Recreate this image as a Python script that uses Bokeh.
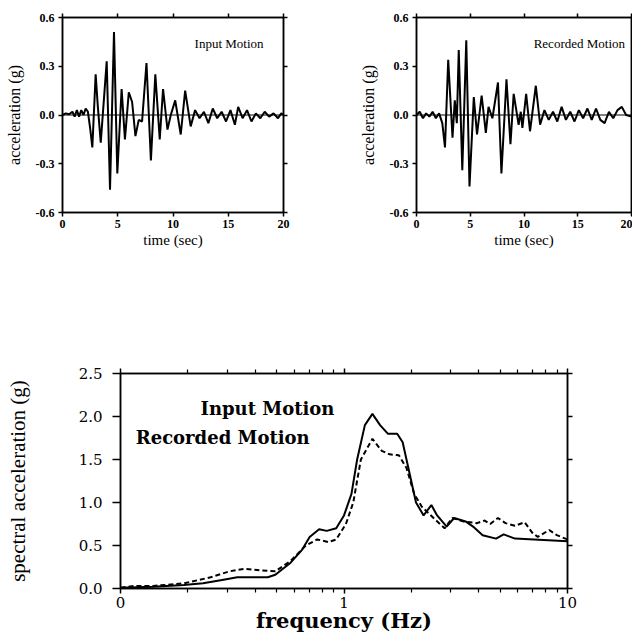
from bokeh.plotting import figure
from bokeh.layouts import column, row
from bokeh.models import (LinearAxis, LogAxis, Span, Label, FixedTicker, Range1d,
                          PrintfTickFormatter, CustomJSTickFormatter)
from bokeh.embed import file_html
from bokeh.resources import INLINE

# ---------------- data ----------------
input_t = [0, 0.3, 0.6, 0.9, 1.1, 1.3, 1.5, 1.7, 1.9, 2.1,
           2.3, 2.5, 2.7, 3.0, 3.2, 3.46, 4.0, 4.3, 4.66, 4.96,
           5.35, 5.65, 6.0, 6.3, 6.6, 6.9, 7.2, 7.6, 8.0, 8.4,
           8.8, 9.1, 9.5, 9.8, 10.2, 10.7, 11.1, 11.6, 12.0, 12.4,
           12.8, 13.2, 13.6, 14.0, 14.4, 14.8, 15.2, 15.6, 15.9, 16.3,
           16.7, 17.1, 17.5, 17.9, 18.3, 18.7, 19.1, 19.5, 19.8, 20]
input_acc = [0, 0.01, 0.005, 0.02, -0.01, 0.03, -0.01, 0.03, 0.0, 0.04,
             0.02, -0.08, -0.20, 0.25, 0.05, -0.17, 0.33, -0.46, 0.51, -0.36,
             0.16, -0.15, 0.14, 0.08, -0.13, -0.03, -0.04, 0.32, -0.28, 0.25,
             -0.15, 0.16, -0.09, 0.0, 0.09, -0.12, 0.15, -0.07, 0.03, -0.02,
             0.02, -0.05, 0.04, -0.02, 0.02, -0.04, 0.03, -0.06, 0.05, -0.02,
             0.03, -0.04, 0.01, -0.02, 0.02, -0.01, 0.01, -0.02, 0.01, 0.0]

rec_t = [0, 0.3, 0.6, 0.9, 1.2, 1.5, 1.8, 2.1, 2.4,
         2.65, 2.95, 3.35, 3.56, 3.75, 3.93, 4.26, 4.63, 4.93,
         5.33, 5.63, 6.06, 6.45, 6.7, 7.06, 7.58, 7.9, 8.37, 8.74,
         9.04, 9.5, 9.7, 9.85, 10.2, 10.56, 11.1, 11.5,
         11.9, 12.3, 12.7, 13.1, 13.5, 13.9, 14.3, 14.7, 15.1, 15.5,
         15.9, 16.3, 16.7, 17.1, 17.5, 17.9, 18.3, 18.7, 19.1, 19.5, 20]
rec_acc = [0, 0.02, -0.02, 0.01, -0.01, 0.02, -0.02, 0.01, -0.05,
           -0.2, 0.34, -0.14, 0.09, -0.05, 0.4, -0.34, 0.46, -0.44,
           0.11, -0.12, 0.12, -0.11, 0.05, -0.02, 0.2, -0.36, 0.22, -0.18,
           0.13, -0.06, 0.02, -0.08, 0.13, -0.1, 0.18, -0.06,
           0.03, -0.03, 0.02, -0.04, 0.05, -0.03, 0.02, -0.04, 0.03, -0.02,
           0.04, -0.03, 0.04, -0.03, -0.05, 0.02, -0.02, 0.03, 0.05, 0.0, -0.01]

input_freq = [0.1, 0.14, 0.192, 0.234, 0.285, 0.333, 0.456, 0.493, 0.577, 0.649,
              0.702, 0.774, 0.837, 0.923, 1.0, 1.08, 1.145, 1.24, 1.34, 1.45,
              1.57, 1.73, 1.83, 1.98, 2.10, 2.27, 2.46, 2.61, 2.88, 3.11,
              3.50, 3.78, 4.17, 4.79, 5.18, 5.82, 7.08, 10]
input_sa = [0.01, 0.02, 0.04, 0.06, 0.10, 0.13, 0.13, 0.16, 0.30, 0.45,
            0.60, 0.69, 0.67, 0.70, 0.85, 1.10, 1.50, 1.90, 2.03, 1.90,
            1.80, 1.80, 1.70, 1.30, 1.00, 0.85, 0.97, 0.85, 0.72, 0.82,
            0.78, 0.72, 0.62, 0.58, 0.63, 0.58, 0.57, 0.55]

rec_freq = [0.1, 0.116, 0.14, 0.192, 0.253, 0.308, 0.36, 0.421, 0.493, 0.577,
            0.675, 0.759, 0.853, 0.923, 1.02, 1.10, 1.19, 1.34, 1.476, 1.60,
            1.76, 1.905, 2.06, 2.23, 2.56, 2.82, 3.05, 3.43, 3.94, 4.26,
            4.51, 4.88, 5.28, 5.82, 6.43, 6.95, 7.36, 8.28, 8.96, 10]
rec_sa = [0.01, 0.03, 0.03, 0.06, 0.13, 0.20, 0.23, 0.21, 0.20, 0.32,
          0.50, 0.57, 0.54, 0.57, 0.75, 1.00, 1.50, 1.74, 1.60, 1.56,
          1.55, 1.40, 1.10, 0.95, 0.80, 0.70, 0.82, 0.78, 0.76, 0.79,
          0.75, 0.82, 0.76, 0.73, 0.77, 0.65, 0.60, 0.68, 0.62, 0.57]

time_ticks = [0, 5, 10, 15, 20]
acc_ticks = [-0.6, -0.3, 0.0, 0.3, 0.6]
sa_ticks = [0.0, 0.5, 1.0, 1.5, 2.0, 2.5]
freq_major = [0.1, 1, 10]
freq_minor = [0.2, 0.3, 0.4, 0.5, 0.6, 0.7, 0.8, 0.9, 2, 3, 4, 5, 6, 7, 8, 9]

SERIF = "Liberation Serif"
WIDE = "DejaVu Serif"

BLANK = CustomJSTickFormatter(code="return '';")


def style_axis(ax, labels=True, size="12px", font=SERIF, bold=True, tick_out=4, standoff=4):
    ax.axis_line_color = "black"
    ax.axis_line_width = 1.5
    ax.major_tick_line_color = "black"
    ax.major_tick_line_width = 1.5
    ax.major_tick_out = tick_out
    ax.major_tick_in = 0
    ax.minor_tick_line_color = "black"
    ax.minor_tick_line_width = 1.2
    ax.major_label_standoff = standoff
    ax.major_label_text_font = font
    ax.major_label_text_font_size = size
    ax.major_label_text_font_style = "bold" if bold else "normal"
    ax.major_label_text_color = "black"
    if not labels:
        ax.formatter = BLANK
        ax.major_label_standoff = 0


def time_fig(t, a, title, width, left, right, tx, right_ticks=True):
    p = figure(width=width, height=268, output_backend="svg", toolbar_location=None,
               x_range=Range1d(0, 20), y_range=Range1d(-0.6, 0.6),
               min_border_left=left, min_border_right=right,
               min_border_top=17, min_border_bottom=56)
    p.grid.visible = False
    p.outline_line_color = "black"
    p.outline_line_width = 1.5
    p.add_layout(Span(location=0, dimension="width", line_color="black", line_width=1))
    p.line(t, a, line_color="black", line_width=2)

    p.xaxis.ticker = FixedTicker(ticks=time_ticks)
    p.yaxis.ticker = FixedTicker(ticks=acc_ticks)
    p.yaxis.formatter = PrintfTickFormatter(format="%.1f")
    style_axis(p.xaxis[0], standoff=3)
    style_axis(p.yaxis[0], standoff=4)
    p.xaxis.axis_label = "time (sec)"
    p.yaxis.axis_label = "acceleration (g)"
    for ax, sz, so in ((p.xaxis[0], "15px", 1), (p.yaxis[0], "16px", 10)):
        ax.axis_label_text_font = SERIF
        ax.axis_label_text_font_size = sz
        ax.axis_label_text_font_style = "normal"
        ax.axis_label_text_color = "black"
        ax.axis_label_standoff = so

    top = LinearAxis(ticker=FixedTicker(ticks=time_ticks))
    style_axis(top, labels=False)
    p.add_layout(top, "above")
    rgt = LinearAxis(ticker=FixedTicker(ticks=acc_ticks))
    style_axis(rgt, labels=False, tick_out=4 if right_ticks else 0)
    p.add_layout(rgt, "right")

    p.add_layout(Label(x=tx, y=0.44, text=title, text_font=SERIF, text_font_size="13px",
                       text_baseline="middle", text_color="black"))
    return p


p1 = time_fig(input_t, input_acc, "Input Motion", 330, 62, 47, 11.95)
p2 = time_fig(rec_t, rec_acc, "Recorded Motion", 302, 86, 1, 10.9, right_ticks=False)

# ---------------- spectral plot ----------------
p3 = figure(width=632, height=367, output_backend="svg", toolbar_location=None,
            x_axis_type="log", x_range=Range1d(0.1, 10), y_range=Range1d(0, 2.5),
            min_border_left=120, min_border_right=65, min_border_top=105,
            min_border_bottom=47)
p3.grid.visible = False
p3.outline_line_color = "black"
p3.outline_line_width = 1.5
p3.line(input_freq, input_sa, line_color="black", line_width=2)
p3.line(rec_freq, rec_sa, line_color="black", line_width=2, line_dash="5 3")

p3.xaxis.ticker = FixedTicker(ticks=freq_major, minor_ticks=freq_minor)
p3.xaxis.formatter = CustomJSTickFormatter(code="return tick < 0.5 ? '0' : tick.toFixed(0);")
p3.yaxis.ticker = FixedTicker(ticks=sa_ticks)
p3.yaxis.formatter = PrintfTickFormatter(format="%.1f")
style_axis(p3.xaxis[0], size="15px", font=WIDE, bold=False, tick_out=5, standoff=3)
style_axis(p3.yaxis[0], size="15px", font=WIDE, bold=False, tick_out=8, standoff=10)
p3.xaxis.minor_tick_out = 4
p3.xaxis.minor_tick_in = 0
p3.xaxis.axis_label = "frequency (Hz)"
p3.xaxis.axis_label_text_font = WIDE
p3.xaxis.axis_label_text_font_size = "21px"
p3.xaxis.axis_label_text_font_style = "bold"
p3.xaxis.axis_label_standoff = -3
p3.xaxis.axis_label_text_color = "black"
p3.yaxis.axis_label = "spectral acceleration (g)"
p3.yaxis.axis_label_text_font = SERIF
p3.yaxis.axis_label_text_font_size = "21px"
p3.yaxis.axis_label_text_font_style = "normal"
p3.yaxis.axis_label_standoff = 46
p3.yaxis.axis_label_text_color = "black"

top3 = LogAxis(ticker=FixedTicker(ticks=freq_major, minor_ticks=freq_minor))
style_axis(top3, labels=False, tick_out=5)
top3.minor_tick_out = 4
top3.minor_tick_in = 0
p3.add_layout(top3, "above")
rgt3 = LinearAxis(ticker=FixedTicker(ticks=sa_ticks))
style_axis(rgt3, labels=False, tick_out=5)
p3.add_layout(rgt3, "right")

p3.add_layout(Label(x=0.228, y=2.09, text="Input Motion", text_font=WIDE,
                    text_font_size="18px", text_font_style="bold",
                    text_baseline="middle", text_color="black"))
p3.add_layout(Label(x=0.117, y=1.76, text="Recorded Motion", text_font=WIDE,
                    text_font_size="18px", text_font_style="bold",
                    text_baseline="middle", text_color="black"))

layout = column(row(p1, p2), p3)
open("out.html", "w").write(file_html(layout, INLINE))
